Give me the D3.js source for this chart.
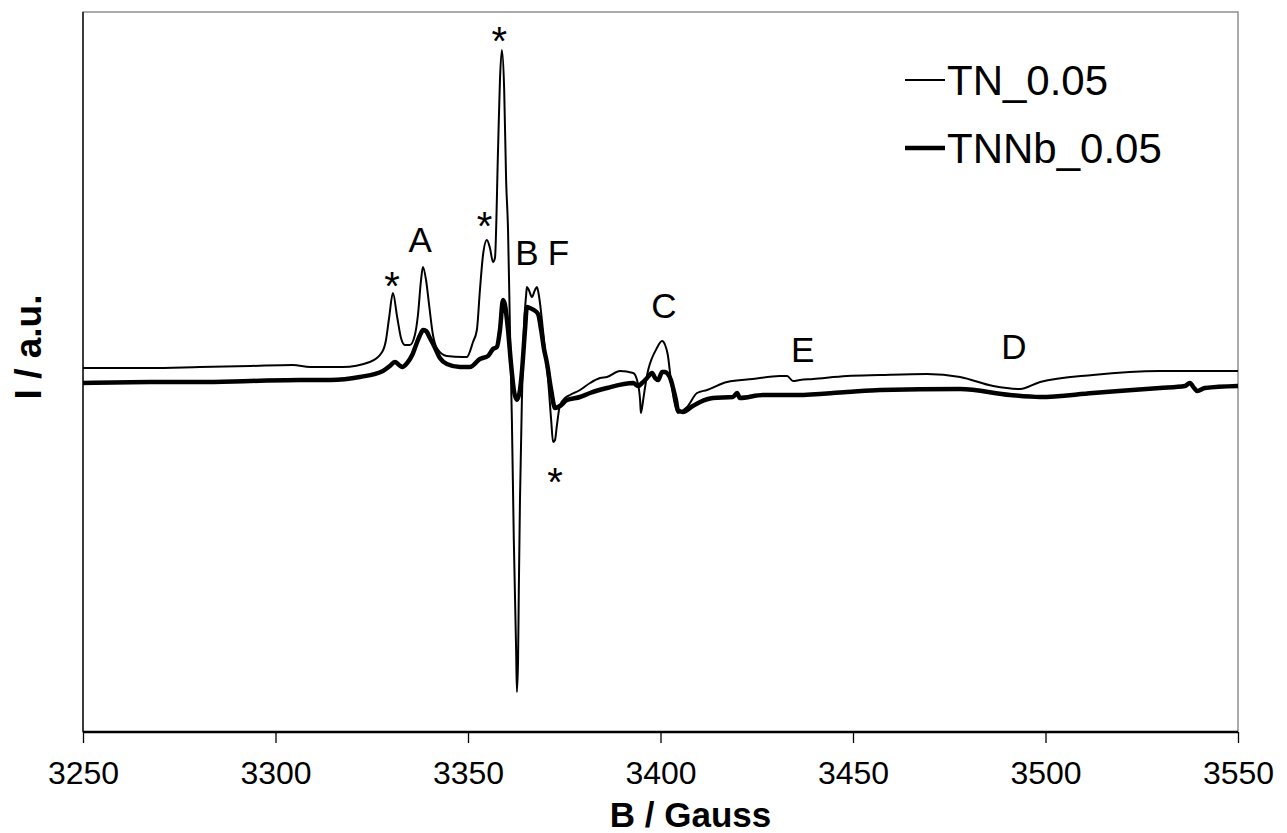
<!DOCTYPE html>
<html>
<head>
<meta charset="utf-8">
<script src="https://cdn.jsdelivr.net/npm/d3@7"></script>
<style>
  body { margin: 0; background: #fff; }
  text { font-family: 'Liberation Sans', Arial, sans-serif; fill: #000; }
</style>
</head>
<body>
<svg id="chart" width="1287" height="833"></svg>
<script>
const xTicks = [3250, 3300, 3350, 3400, 3450, 3500, 3550]
const seriesNames = ['TN_0.05', 'TNNb_0.05']

// TN_0.05 (thin line)
const tnField = [3250, 3267.4, 3280.4, 3293.4, 3304.5, 3309.0, 3317.5, 3324.5, 3327.7, 3328.7, 3329.5, 3330.5, 3331.6, 3332.6, 3333.6, 3334.9, 3336.2, 3337.0, 3337.8, 3338.3, 3339.1, 3339.9, 3340.9, 3341.9, 3344.5, 3348.7, 3349.7, 3351.3, 3352.3, 3353.1, 3353.9, 3354.9, 3355.7, 3356.5, 3357.0, 3357.8, 3358.3, 3358.8, 3359.4, 3359.9, 3360.4, 3360.9, 3361.4, 3361.9, 3362.5, 3362.7, 3363.0, 3363.2, 3363.5, 3364.0, 3364.5, 3365.1, 3365.3, 3365.8, 3366.6, 3367.4, 3367.9, 3368.4, 3369.2, 3370.0, 3370.8, 3371.6, 3372.1, 3372.6, 3373.1, 3373.9, 3375.2, 3376.5, 3379.1, 3381.7, 3384.3, 3386.1, 3389.5, 3392.9, 3393.9, 3394.7, 3394.9, 3395.5, 3396.0, 3396.8, 3397.8, 3398.8, 3400.4, 3401.2, 3401.9, 3402.7, 3403.5, 3404.5, 3405.6, 3406.9, 3409.5, 3412.1, 3417.3, 3424.0, 3431.0, 3432.9, 3434.4, 3436.2, 3439.6, 3448.4, 3457.0, 3469.2, 3477.8, 3486.4, 3493.4, 3498.6, 3512.3, 3529.7, 3550]
const tnSignal = [4, 4, 5, 6, 7, 5, 5, 10, 20, 32, 54, 79, 55, 34, 27, 27, 37, 57, 92, 105, 92, 67, 37, 24, 16, 15, 15, 30, 42, 82, 117, 132, 124, 110, 114, 222, 292, 322, 282, 192, 142, 42, -48, -168, -278, -320, -288, -218, -128, -28, 42, 77, 85, 82, 75, 82, 85, 77, 52, 22, -8, -48, -70, -68, -53, -33, -26, -23, -18, -11, -6, -5, 1, -1, -8, -28, -41, -28, -15, 2, 14, 22, 31, 27, 17, -8, -28, -41, -39, -35, -21, -18, -10, -7, -4, -4, -9, -8, -7, -4, -3, -2, -5, -14, -17, -10, -3, 1, 1]

// TNNb_0.05 (thick line)
const tnnbField = [3250, 3267.4, 3280.4, 3293.4, 3306.4, 3314.2, 3321.9, 3327.9, 3329.7, 3331.0, 3332.1, 3332.9, 3334.2, 3335.5, 3336.8, 3337.8, 3338.3, 3339.1, 3340.1, 3341.2, 3342.7, 3344.5, 3347.9, 3350.5, 3353.1, 3355.2, 3356.5, 3357.5, 3358.3, 3359.1, 3359.6, 3360.4, 3361.2, 3361.9, 3362.7, 3363.5, 3364.0, 3364.8, 3365.3, 3366.1, 3367.1, 3368.2, 3369.0, 3369.7, 3370.5, 3371.6, 3372.6, 3373.9, 3375.7, 3379.1, 3381.7, 3386.1, 3392.9, 3394.2, 3395.2, 3396.5, 3397.8, 3398.6, 3399.4, 3400.4, 3401.2, 3401.9, 3402.7, 3403.2, 3404.0, 3404.5, 3405.8, 3408.4, 3410.3, 3413.6, 3418.8, 3419.9, 3420.6, 3426.6, 3435.5, 3448.4, 3457.0, 3477.8, 3490.8, 3498.6, 3512.3, 3529.7, 3536.2, 3537.5, 3538.6, 3539.4, 3541.4, 3550]
const tnnbSignal = [-11, -10, -10, -9, -8, -8, -5, 1, 6, 10, 7, 5, 9, 17, 30, 39, 42, 41, 34, 26, 14, 8, 5, 5, 13, 16, 23, 25, 42, 72, 67, 42, 7, -18, -28, -18, 0, 42, 65, 64, 62, 58, 42, 24, 9, -18, -36, -34, -28, -25, -21, -16, -11, -14, -11, -6, -1, -6, -8, 0, 0, -2, -8, -15, -28, -38, -40, -34, -30, -26, -25, -21, -26, -23, -23, -20, -18, -17, -23, -25, -21, -16, -14, -11, -16, -19, -16, -14]

// peak labels: text, field, signal level of the label baseline
const peakLabels = ['*', 'A', '*', '*', 'B', 'F', '*', 'C', 'E', 'D']
const peakField = [3330.3, 3337.6, 3354.3, 3358.1, 3365.3, 3373.5, 3372.6, 3400.9, 3436.9, 3491.8]
const peakLevel = [72, 120, 132, 317, 107, 107, -124, 54, 10, 13]

const c = {
  width: 1287,
  height: 833,
  margin: { top: 12, right: 49, bottom: 101, left: 83 },
  fontTick: 32,
  fontTitle: 35,
  fontLegend: 42,
  fontLabel: 35,
  fontStar: 40,
}

const svg = d3.select('#chart')

const xScale = d3.scaleLinear([3250, 3550], [c.margin.left, c.width - c.margin.right])
const yScale = d3.scaleLinear([-360, 360], [c.height - c.margin.bottom, c.margin.top])

// Plot frame
svg
  .append('rect')
  .attr('x', c.margin.left)
  .attr('y', c.margin.top)
  .attr('width', xScale.range()[1] - xScale.range()[0])
  .attr('height', yScale.range()[0] - yScale.range()[1])
  .attr('fill', 'none')
  .attr('stroke', '#7f7f7f')
  .attr('stroke-width', 1.3)

const series = [
  { name: seriesNames[0], width: 2, points: tnField.map((b, i) => ({ b, v: tnSignal[i] })) },
  { name: seriesNames[1], width: 4.5, points: tnnbField.map((b, i) => ({ b, v: tnnbSignal[i] })) },
]

const line = d3
  .line()
  .x((d) => xScale(d.b))
  .y((d) => yScale(d.v))
  .curve(d3.curveMonotoneX)

svg
  .append('g')
  .classed('plot', true)
  .selectAll('path')
  .data(series)
  .join('path')
  .attr('d', (d) => line(d.points))
  .attr('fill', 'none')
  .attr('stroke', '#000')
  .attr('stroke-width', (d) => d.width)
  .attr('stroke-linejoin', 'round')

// Y axis (no ticks)
svg
  .append('line')
  .attr('x1', c.margin.left)
  .attr('x2', c.margin.left)
  .attr('y1', yScale.range()[0])
  .attr('y2', yScale.range()[1])
  .attr('stroke', '#000')
  .attr('stroke-width', 1.3)

// X axis
const xAxis = d3.axisBottom(xScale).tickValues(xTicks).tickSize(11).tickPadding(18).tickFormat(d3.format('d'))

const xAxisEl = svg
  .append('g')
  .classed('x-axis', true)
  .attr('transform', `translate(0,${ yScale.range()[0] })`)
  .call(xAxis)

xAxisEl.select('.domain').attr('stroke-width', 2.6).attr('d', `M${ xScale.range()[0] },0H${ xScale.range()[1] }`)
xAxisEl.selectAll('.tick line').attr('stroke-width', 1.3)
xAxisEl
  .selectAll('.tick text')
  .style('font-size', `${ c.fontTick }px`)
  .style('font-family', "'Liberation Sans', Arial, sans-serif")

svg
  .append('text')
  .attr('x', (xScale.range()[0] + xScale.range()[1]) / 2 + 30)
  .attr('y', 827)
  .attr('text-anchor', 'middle')
  .attr('font-size', c.fontTitle)
  .attr('font-weight', 'bold')
  .text('B / Gauss')

svg
  .append('text')
  .attr('transform', 'translate(41,347) rotate(-90)')
  .attr('text-anchor', 'middle')
  .attr('font-size', 37)
  .attr('font-weight', 'bold')
  .text('I / a.u.')

// Peak annotations
svg
  .append('g')
  .selectAll('text')
  .data(peakLabels)
  .join('text')
  .attr('x', (d, i) => xScale(peakField[i]))
  .attr('y', (d, i) => yScale(peakLevel[i]))
  .attr('text-anchor', 'middle')
  .attr('font-size', (d) => (d === '*' ? c.fontStar : c.fontLabel))
  .text((d) => d)

// Legend
const legend = svg
  .append('g')
  .selectAll('g')
  .data(series)
  .join('g')
  .attr('transform', (d, i) => `translate(905,${ 95 + i * 68 })`)

legend
  .append('line')
  .attr('x1', 0)
  .attr('x2', 40)
  .attr('y1', -15)
  .attr('y2', -15)
  .attr('stroke', '#000')
  .attr('stroke-width', (d) => d.width)

legend
  .append('text')
  .attr('x', 42)
  .attr('y', 0)
  .attr('font-size', c.fontLegend)
  .text((d) => d.name)
</script>
</body>
</html>
